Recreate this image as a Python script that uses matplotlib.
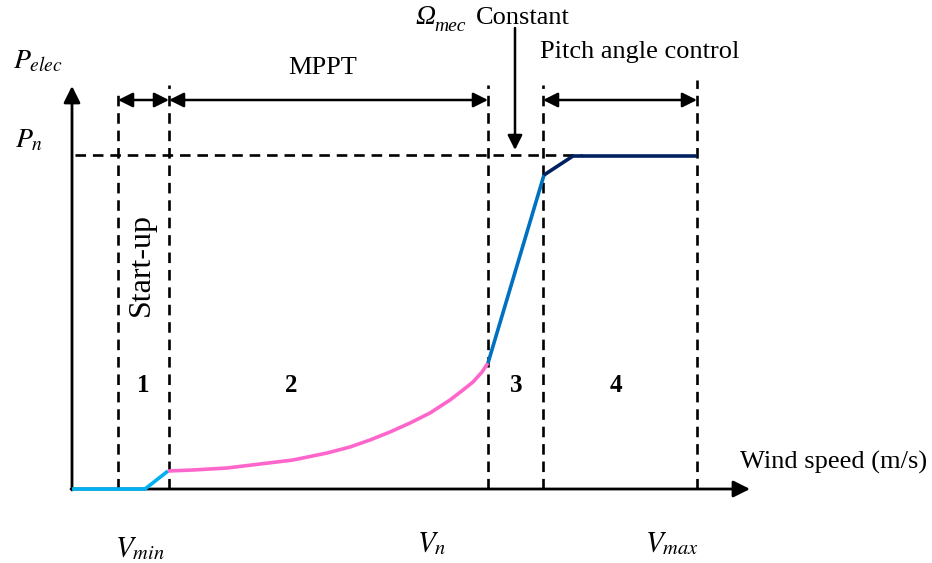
import matplotlib
matplotlib.use("Agg")
import matplotlib.pyplot as plt
import numpy as np

plt.rcParams['font.family'] = ['Liberation Serif', 'DejaVu Serif']
plt.rcParams['mathtext.fontset'] = 'stix'

# courbe de puissance (unites: abscisse ~ vitesse, ordonnee ~ puissance)
vitesse = [72, 145, 168, 193, 227, 260, 293, 327, 350, 370, 390, 410, 430, 450, 463, 473, 482, 488,
           544, 573, 697]
puissance = [0, 0, 18, 19, 21, 25, 29, 36, 42, 49, 57, 66, 76, 89, 99, 107, 117, 126,
             314, 333, 333]
# indices des segments et leurs couleurs
segments = [(0, 2, '#00B0F0'), (2, 17, '#FF66CC'), (17, 18, '#0070C0'), (18, 20, '#002060')]

# limites des zones
x_zones = [118, 169, 488, 543, 697]
haut_zones = [399, 404, 404, 404, 409]
P_n = 334
labels_zones = ['1', '2', '3', '4']
x_labels_zones = [143, 291, 516, 616]

fig = plt.figure(figsize=(9.32, 5.63), dpi=100)
ax = fig.add_axes([0, 0, 1, 1])
ax.set_xlim(0, 932)
ax.set_ylim(-74, 489)
ax.axis('off')

# axes avec fleches
ax.annotate('', xy=(72, 403), xytext=(72, -1),
            arrowprops=dict(arrowstyle='-|>', color='black', lw=2, mutation_scale=25, shrinkA=0, shrinkB=0))
ax.annotate('', xy=(750, 0), xytext=(71, 0),
            arrowprops=dict(arrowstyle='-|>', color='black', lw=2, mutation_scale=25, shrinkA=0, shrinkB=0))

# lignes pointillees
for x, h in zip(x_zones, haut_zones):
    ax.plot([x, x], [0, h], color='black', lw=1.9, dashes=(4, 2.6))
ax.plot([75, 582], [P_n, P_n], color='black', lw=1.9, dashes=(4, 2.6))

# courbe
for i0, i1, c in segments:
    ax.plot(vitesse[i0:i1 + 1], puissance[i0:i1 + 1], color=c, lw=2.6,
            solid_capstyle='butt', solid_joinstyle='round', zorder=3)

# fleches doubles des zones
y_fl = 389
for a, b in [(118, 169), (169, 488), (543, 697)]:
    ax.annotate('', xy=(b, y_fl), xytext=(a, y_fl),
                arrowprops=dict(arrowstyle='<|-|>', color='black', lw=1.8, mutation_scale=22, shrinkA=0, shrinkB=0))

# fleche Omega constant
ax.annotate('', xy=(515, 339), xytext=(515, 461),
            arrowprops=dict(arrowstyle='-|>', color='black', lw=1.8, mutation_scale=22, shrinkA=0, shrinkB=0))

# textes
ax.text(13, 427, r'$P_{elec}$', fontsize=20, va='center', ha='left')
ax.text(15, 348, r'$P_n$', fontsize=20, va='center', ha='left')
ax.text(323, 421, 'MPPT', fontsize=19, ha='center', va='center')
# Omega en italique (mathtext met les majuscules grecques en droit)
ax.text(415, 465, 'Ω', fontsize=20, style='italic', ha='left', va='baseline')
ax.text(434, 458, 'mec', fontsize=14, style='italic', ha='left', va='baseline')
ax.text(476, 465, 'Constant', fontsize=19, ha='left', va='baseline')
ax.text(540, 437, 'Pitch angle control', fontsize=19, ha='left', va='center')
ax.text(141, 224, 'Start-up', fontsize=23, rotation=90, ha='center', va='center')
for lab, x in zip(labels_zones, x_labels_zones):
    ax.text(x, 103, lab, fontsize=18, fontweight='bold', ha='center', va='center')
ax.text(740, 27, 'Wind speed (m/s)', fontsize=19, ha='left', va='center')
ax.text(140, -60, r'$V_{min}$', fontsize=21, ha='center', va='center')
ax.text(432, -55, r'$V_n$', fontsize=21, ha='center', va='center')
ax.text(672, -55, r'$V_{max}$', fontsize=21, ha='center', va='center')

fig.savefig('out.png', dpi=100)
